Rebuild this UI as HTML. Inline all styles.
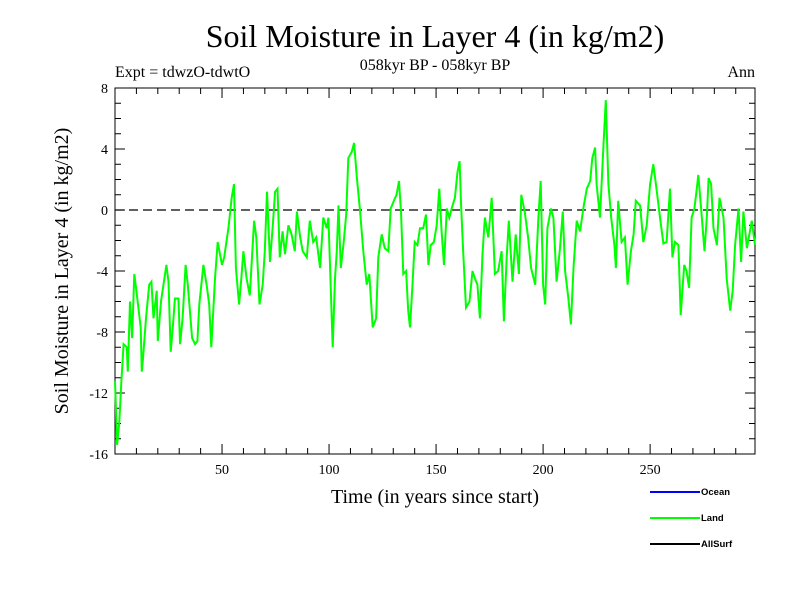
<!DOCTYPE html>
<html><head><meta charset="utf-8"><style>
html,body{margin:0;padding:0;background:#fff;}
svg{display:block;font-family:"Liberation Serif",serif;}
</style></head><body>
<svg id="chart" width="800" height="600" viewBox="0 0 800 600">
<text x="435" y="47" font-size="32" text-anchor="middle">Soil Moisture in Layer 4 (in kg/m2)</text>
<text x="115" y="77" font-size="16">Expt = tdwzO-tdwtO</text>
<text x="435" y="70" font-size="16" text-anchor="middle">058kyr BP - 058kyr BP</text>
<text x="755" y="77" font-size="16" text-anchor="end">Ann</text>
<text x="435" y="503" font-size="20" text-anchor="middle">Time (in years since start)</text>
<text transform="translate(68,271) rotate(-90)" font-size="20" text-anchor="middle">Soil Moisture in Layer 4 (in kg/m2)</text>
<g id="axes"></g>
<g id="series"></g>
<g font-family="'Liberation Sans',sans-serif" font-size="9.5" font-weight="bold">
<line x1="650" y1="492" x2="700" y2="492" stroke="#0000ff" stroke-width="2"/>
<text x="701" y="495">Ocean</text>
<line x1="650" y1="518" x2="700" y2="518" stroke="#00ff00" stroke-width="2"/>
<text x="701" y="521">Land</text>
<line x1="650" y1="544" x2="700" y2="544" stroke="#000" stroke-width="2"/>
<text x="701" y="547">AllSurf</text>
</g>
</svg>
<script>
const years=[0,1,2,3,4,5.5,6,7,8,9,10,12,12.5,13,14.5,16,17,18,19.5,20,21.5,24,25,26,27,28,29.6,30.4,31.6,33,34,36,37.4,38.5,39.4,41.3,42.8,44,45,46.7,48,50,51,53,54.5,55.6,56.5,58,59,60,61.5,63,65,66,67.5,69,70,71,72.4,73.7,74.8,75.9,77,78.3,79.4,81,82.5,84,85,86.5,87.7,89.6,91,92.6,94,95.8,97.3,98.9,99.7,100.5,101.7,102.8,103.6,104.4,105.5,106.7,108,109,110.6,111.7,113,114.5,116,117.6,118.8,120.4,122,123,124.6,126,127.7,128.8,130.3,131.5,132.7,133.6,134.7,136,137,137.8,139,140,141.3,142.5,144,145.3,146.4,147.5,149,150.3,151.5,152.6,153.7,155,156.2,157.3,158.8,160,161,161.7,162.7,164,165.6,167,168.2,169.3,170.5,171.7,172.8,174.4,176,177.5,179,180.6,181.7,183,184,185.7,187.2,188.7,189.8,191.4,193,194.4,196.3,197.8,198.9,200,201,202,203.7,204.8,206.3,207.9,209.2,210.3,211.8,213,214.2,215.7,217.3,218.8,220.4,222,223,224.3,225,226.6,228.2,229.3,230.5,231.8,233.3,234,235.1,236.7,238.2,239.5,241,242.3,243.3,245.3,246.8,248.4,250,251.5,253,254.6,256.2,257.7,259.3,260.4,261.6,263.2,264.3,265.9,267,268.2,269.4,270.7,271.8,272.5,273.8,275.4,276.5,277.3,278.5,279.6,281.2,282.4,284.3,285.8,287.4,288.6,289.7,291.3,292.5,293.6,295.2,297.5,299];
const landValues=[-11.2,-15.4,-13.9,-11.2,-8.8,-9.0,-10.6,-6.0,-8.4,-4.2,-5.3,-7.7,-10.6,-9.9,-7.1,-4.9,-4.7,-7.1,-5.3,-8.6,-6.0,-3.6,-4.7,-9.3,-7.7,-5.8,-5.8,-8.8,-7.1,-3.6,-4.9,-8.4,-8.8,-8.6,-6.2,-3.6,-4.9,-6.2,-9.0,-4.5,-2.1,-3.6,-3.1,-1.2,0.8,1.7,-3.8,-6.2,-4.5,-2.7,-4.5,-5.6,-0.7,-1.8,-6.2,-4.9,-2.7,1.2,-3.4,-1.0,1.2,1.4,-3.1,-1.4,-2.9,-1.0,-1.6,-2.7,-0.1,-1.8,-2.7,-3.1,-0.7,-2.1,-1.8,-3.8,-0.5,-1.2,-0.5,-3.8,-9.0,-4.5,-2.7,0.3,-3.8,-2.3,-0.3,3.4,3.8,4.4,2.1,-0.1,-2.7,-4.9,-4.2,-7.7,-7.1,-3.1,-1.6,-2.5,-2.7,0.1,0.6,1.0,1.9,-0.1,-4.2,-4.0,-6.6,-7.7,-4.9,-2.1,-2.3,-1.2,-1.2,-0.3,-3.6,-2.3,-2.1,-1.0,1.4,-1.4,-3.6,0.1,-0.5,0.1,0.8,2.5,3.2,0.3,-2.9,-6.4,-6.0,-4.0,-4.5,-4.9,-7.1,-2.9,-0.5,-1.8,0.8,-4.2,-4.0,-2.7,-7.3,-3.1,-0.7,-4.7,-1.6,-4.2,1.0,-0.1,-1.8,-3.8,-4.9,-0.5,1.9,-4.9,-6.2,-1.2,0.1,-0.5,-4.7,-2.5,-0.1,-4.0,-5.8,-7.5,-3.8,-0.7,-1.4,0.1,1.4,1.9,3.4,4.1,1.7,-0.5,4.3,7.2,1.7,-0.5,-2.3,-3.8,0.6,-2.1,-1.8,-4.9,-2.7,-1.6,0.6,0.3,-2.1,-1.0,1.7,3.0,1.4,-0.5,-2.2,-2.1,1.4,-3.1,-2.1,-2.3,-6.9,-3.6,-4.0,-5.1,-0.5,0.1,1.4,2.3,0.1,-2.7,-0.5,2.1,1.7,-1.2,-2.3,0.8,-0.5,-4.5,-6.6,-5.3,-2.3,0.1,-3.4,-0.1,-2.5,-0.7,-2.3];
const xTickValues=[50,100,150,200,250];
const yTickValues=[-16,-12,-8,-4,0,4,8];

const NS="http://www.w3.org/2000/svg";
const L=115,R=755,T=88,B=454;
const xMin=0,xMax=299,yMin=-16,yMax=8;
const xs=v=>L+(v-xMin)/(xMax-xMin)*(R-L);
const ys=v=>B-(v-yMin)/(yMax-yMin)*(B-T);
function mk(tag,attrs,parent){const e=document.createElementNS(NS,tag);for(const k in attrs)e.setAttribute(k,attrs[k]);parent.appendChild(e);return e;}
const axes=document.getElementById('axes');
const series=document.getElementById('series');

// zero line
const zl=mk('line',{x1:L,x2:R,y1:ys(0),y2:ys(0),stroke:'#000','stroke-width':1.3,'stroke-dasharray':'9,5'},axes);



// data line
let d='';
years.forEach((y,i)=>{d+=(i?'L':'M')+xs(y).toFixed(1)+','+ys(landValues[i]).toFixed(1);});
const pl=mk('path',{d:d,fill:'none',stroke:'#00ff00','stroke-width':2,'stroke-linejoin':'miter'},series);



// frame
const fr=mk('rect',{x:L,y:T,width:R-L,height:B-T,fill:'none',stroke:'#000','stroke-width':1},axes);



// x ticks
for(let v=10;v<=290;v+=10){
  const major=v%50===0,len=major?10:6;
  mk('line',{x1:xs(v),x2:xs(v),y1:B,y2:B-len,stroke:'#000'},axes);
  mk('line',{x1:xs(v),x2:xs(v),y1:T,y2:T+len,stroke:'#000'},axes);
}
xTickValues.forEach(v=>{
  const t=mk('text',{x:xs(v),y:B+20,'font-size':14,'text-anchor':'middle'},axes);
  t.textContent=v;
  
  
});
// y ticks
for(let v=yMin+1;v<yMax;v+=1){
  const major=v%4===0,len=major?10:6;
  mk('line',{x1:L,x2:L+len,y1:ys(v),y2:ys(v),stroke:'#000'},axes);
  mk('line',{x1:R,x2:R-len,y1:ys(v),y2:ys(v),stroke:'#000'},axes);
}
yTickValues.forEach(v=>{
  const t=mk('text',{x:L-7,y:ys(v)+5,'font-size':14,'text-anchor':'end'},axes);
  t.textContent=v;
  
  
});
</script>
</body></html>
